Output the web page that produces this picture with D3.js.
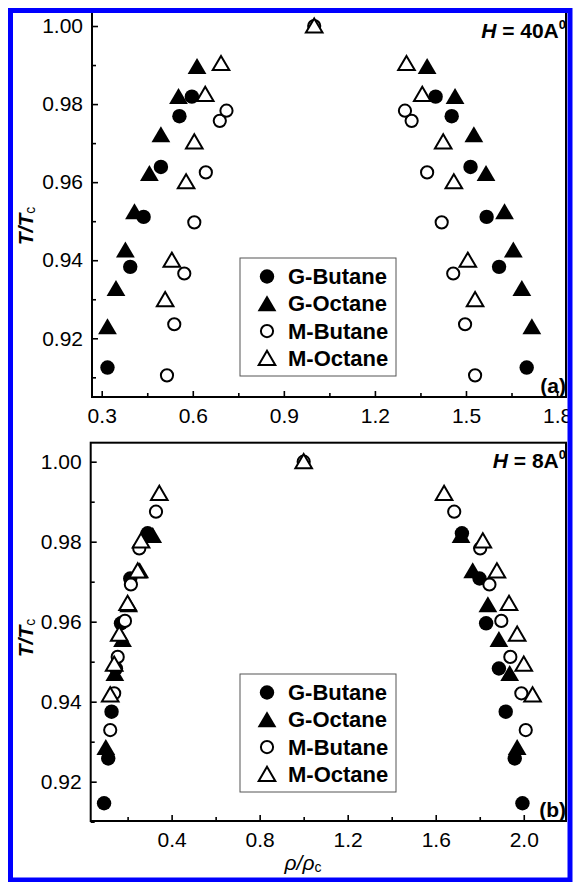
<!DOCTYPE html>
<html>
<head>
<meta charset="utf-8">
<script src="https://cdn.jsdelivr.net/npm/d3@7"></script>
<style>
  body { margin: 0; background: #fff; }
  svg { display: block; }
  text { font-family: Arial, "Liberation Sans", Helvetica, sans-serif; fill: #000; }
</style>
</head>
<body>
<svg id="fig" width="573" height="882"></svg>
<script>
// ---- Legend entries ----
const seriesNames = ["G-Butane", "G-Octane", "M-Butane", "M-Octane"];

// ---- Axis ticks ----
const yTicksMajor = [0.92, 0.94, 0.96, 0.98, 1.00];
const yTicksMinor = [0.91, 0.93, 0.95, 0.97, 0.99];
const xTicksMajorA = [0.3, 0.6, 0.9, 1.2, 1.5, 1.8];
const xTicksMinorA = [0.45, 0.75, 1.05, 1.35, 1.65];
const xTicksMajorB = [0.4, 0.8, 1.2, 1.6, 2.0];
const xTicksMinorB = [0.2, 0.6, 1.0, 1.4, 1.8];

// ---- Panel (a): H = 40 Å  (T/Tc, vapour and liquid rho/rhoc) ----
const aGButaneT   = [0.9125, 0.9383, 0.9511, 0.9639, 0.9769, 0.9819];
const aGButaneVap = [0.319, 0.394, 0.438, 0.495, 0.556, 0.597];
const aGButaneLiq = [1.700, 1.609, 1.568, 1.515, 1.453, 1.400];

const aGOctaneT   = [0.9229, 0.9327, 0.9426, 0.9524, 0.9622, 0.9721, 0.9819, 0.9896];
const aGOctaneVap = [0.319, 0.347, 0.378, 0.408, 0.457, 0.495, 0.553, 0.614];
const aGOctaneLiq = [1.717, 1.684, 1.656, 1.627, 1.566, 1.526, 1.464, 1.372];

const aMButaneT   = [0.9105, 0.9236, 0.9366, 0.9497, 0.9625, 0.9757, 0.9783];
const aMButaneVap = [0.515, 0.539, 0.572, 0.605, 0.643, 0.689, 0.711];
const aMButaneLiq = [1.530, 1.497, 1.458, 1.420, 1.372, 1.321, 1.299];

const aMOctaneT   = [0.9299, 0.9400, 0.9601, 0.9703, 0.9825, 0.9904];
const aMOctaneVap = [0.509, 0.531, 0.578, 0.605, 0.641, 0.693];
const aMOctaneLiq = [1.530, 1.506, 1.460, 1.425, 1.356, 1.304];

// ---- Panel (b): H = 8 Å ----
const bGButaneT   = [0.9146, 0.9258, 0.9375, 0.9483, 0.9596, 0.9708, 0.9821];
const bGButaneVap = [0.093, 0.112, 0.127, 0.147, 0.170, 0.212, 0.291];
const bGButaneLiq = [1.994, 1.959, 1.918, 1.887, 1.829, 1.799, 1.719];

const bGOctaneT   = [0.9285, 0.9470, 0.9555, 0.9642, 0.9727, 0.9815];
const bGOctaneVap = [0.101, 0.142, 0.177, 0.205, 0.255, 0.314];
const bGOctaneLiq = [1.970, 1.936, 1.887, 1.837, 1.768, 1.715];

const bMButaneT   = [0.9329, 0.9421, 0.9512, 0.9602, 0.9693, 0.9783, 0.9875];
const bMButaneVap = [0.121, 0.139, 0.155, 0.188, 0.215, 0.253, 0.329];
const bMButaneLiq = [2.009, 1.989, 1.939, 1.898, 1.844, 1.802, 1.684];

const bMOctaneT   = [0.9417, 0.9494, 0.9569, 0.9646, 0.9727, 0.9802, 0.9921];
const bMOctaneVap = [0.121, 0.139, 0.162, 0.200, 0.246, 0.261, 0.344];
const bMOctaneLiq = [2.040, 2.000, 1.970, 1.933, 1.878, 1.814, 1.638];

// Critical point (rho/rhoc = 1, T/Tc = 1)
const criticalRho = [1.0];
const criticalT   = [1.0];

// ---- Marker shapes ----
const markers = {
  filledCircle:   { kind: "circle", r: 7.2, fill: "#000", stroke: "none", sw: 0 },
  filledTriangle: { kind: "path", d: "M0,-8.6L9.4,7.4L-9.4,7.4Z", fill: "#000", stroke: "none", sw: 0 },
  openCircle:     { kind: "circle", r: 6.1, fill: "#fff", stroke: "#000", sw: 2 },
  openTriangle:   { kind: "path", d: "M0,-7.6L8.3,6.6L-8.3,6.6Z", fill: "#fff", stroke: "#000", sw: 2 }
};
const seriesMarkers = ["filledCircle", "filledTriangle", "openCircle", "openTriangle"];

function pairs(T, vap, liq) {
  return T.map((t, i) => [vap[i], t]).concat(T.map((t, i) => [liq[i], t]));
}

function drawMarker(sel, m) {
  if (m.kind === "circle") {
    sel.append("circle").attr("r", m.r);
  } else {
    sel.append("path").attr("d", m.d).attr("stroke-linejoin", "miter");
  }
  sel.selectAll("circle,path")
    .attr("fill", m.fill).attr("stroke", m.stroke).attr("stroke-width", m.sw);
}

const svg = d3.select("#fig");

function drawPanel(p) {
  const x = d3.scaleLinear().domain(p.xDomain).range([p.left, p.right]);
  const y = d3.scaleLinear().domain(p.yDomain).range([p.bottom, p.top]);
  const g = svg.append("g");

  // frame
  g.append("rect")
    .attr("x", p.left).attr("y", p.top)
    .attr("width", p.right - p.left).attr("height", p.bottom - p.top)
    .attr("fill", "none").attr("stroke", "#000").attr("stroke-width", 2);

  // x axis: major ticks with labels, minor ticks
  g.append("g").attr("transform", `translate(0,${p.bottom})`)
    .call(d3.axisBottom(x).tickValues(p.xMajor).tickFormat(d3.format(".1f"))
      .tickSizeInner(-6).tickSizeOuter(0).tickPadding(11));
  g.append("g").attr("transform", `translate(0,${p.bottom})`)
    .call(d3.axisBottom(x).tickValues(p.xMinor).tickFormat("")
      .tickSizeInner(-4).tickSizeOuter(0));

  // y axis
  g.append("g").attr("transform", `translate(${p.left},0)`)
    .call(d3.axisLeft(y).tickValues(yTicksMajor).tickFormat(d3.format(".2f"))
      .tickSizeInner(-6).tickSizeOuter(0).tickPadding(9));
  g.append("g").attr("transform", `translate(${p.left},0)`)
    .call(d3.axisLeft(y).tickValues(yTicksMinor).tickFormat("")
      .tickSizeInner(-4).tickSizeOuter(0));

  g.selectAll(".domain").remove();
  g.selectAll(".tick line").attr("stroke", "#000").attr("stroke-width", 1.6);
  g.selectAll(".tick text").attr("font-size", 21).attr("font-family", "Arial, 'Liberation Sans', sans-serif").attr("fill", "#000");

  // data markers
  const plot = g.append("g");
  p.series.forEach((s, k) => {
    const m = markers[seriesMarkers[k]];
    pairs(s.T, s.vap, s.liq).forEach(([rx, t]) => {
      const mg = plot.append("g").attr("transform", `translate(${x(rx)},${y(t)})`);
      drawMarker(mg, m);
    });
  });
  // critical point drawn with both open markers
  criticalRho.forEach((r, i) => {
    ["openCircle", "openTriangle"].forEach(name => {
      const mg = plot.append("g").attr("transform", `translate(${x(r)},${y(criticalT[i])})`);
      drawMarker(mg, markers[name]);
    });
  });

  // legend
  const lg = g.append("g").attr("transform", `translate(${p.legX},${p.legY})`);
  lg.append("rect").attr("width", 156).attr("height", 118)
    .attr("fill", "#fff").attr("stroke", "#555").attr("stroke-width", 1);
  seriesNames.forEach((name, k) => {
    const cy = 18.5 + k * 27.3;
    const mg = lg.append("g").attr("transform", `translate(27,${cy})`);
    drawMarker(mg, markers[seriesMarkers[k]]);
    lg.append("text").attr("x", 48).attr("y", cy + 7.6)
      .attr("font-size", 22).attr("font-weight", "bold").text(name);
  });

  // H label
  const ht = g.append("text").attr("x", p.right).attr("y", p.hY)
    .attr("text-anchor", "end").attr("font-weight", "bold").attr("font-size", 21);
  ht.append("tspan").attr("font-style", "italic").text("H");
  ht.append("tspan").text(" = " + p.hText);
  ht.append("tspan").attr("font-size", 13).attr("dy", -9).text("0");

  // panel letter
  g.append("text").attr("x", p.right).attr("y", p.bottom - 4)
    .attr("text-anchor", "end").attr("font-weight", "bold").attr("font-size", 21)
    .text(p.letter);

  // y axis title
  const yt = g.append("text")
    .attr("transform", `translate(33,${p.yTitleY}) rotate(-90)`)
    .attr("text-anchor", "middle").attr("font-size", 21);
  yt.append("tspan").attr("font-style", "italic").attr("font-weight", "bold").text("T/T");
  yt.append("tspan").attr("font-size", 14).attr("dy", 2).text("c");

  return { x, y };
}

drawPanel({
  left: 92, right: 566, top: 12, bottom: 397,
  xDomain: [0.268, 1.8295], yDomain: [0.90496, 1.00359],
  xMajor: xTicksMajorA, xMinor: xTicksMinorA,
  series: [
    { T: aGButaneT, vap: aGButaneVap, liq: aGButaneLiq },
    { T: aGOctaneT, vap: aGOctaneVap, liq: aGOctaneLiq },
    { T: aMButaneT, vap: aMButaneVap, liq: aMButaneLiq },
    { T: aMOctaneT, vap: aMOctaneVap, liq: aMOctaneLiq }
  ],
  legX: 240, legY: 258, hText: "40A", hY: 38, letter: "(a)", yTitleY: 226
});

drawPanel({
  left: 90.7, right: 566, top: 442.7, bottom: 821,
  xDomain: [0.0323, 2.1919], yDomain: [0.91017, 1.00475],
  xMajor: xTicksMajorB, xMinor: xTicksMinorB,
  series: [
    { T: bGButaneT, vap: bGButaneVap, liq: bGButaneLiq },
    { T: bGOctaneT, vap: bGOctaneVap, liq: bGOctaneLiq },
    { T: bMButaneT, vap: bMButaneVap, liq: bMButaneLiq },
    { T: bMOctaneT, vap: bMOctaneVap, liq: bMOctaneLiq }
  ],
  legX: 240, legY: 674, hText: "8A", hY: 468, letter: "(b)", yTitleY: 638
});

// x axis title (shared, below panel b)
const xt = svg.append("text").attr("x", 303).attr("y", 870)
  .attr("text-anchor", "middle").attr("font-size", 21).attr("font-style", "italic");
xt.append("tspan").text("ρ/ρ");
xt.append("tspan").attr("font-size", 14).attr("font-style", "normal").attr("dy", 2).text("c");

// outer blue border
svg.append("rect").attr("x", 10.5).attr("y", 10.5).attr("width", 559.5).attr("height", 869.5)
  .attr("fill", "none").attr("stroke", "#0000ff").attr("stroke-width", 5);
</script>
</body>
</html>
